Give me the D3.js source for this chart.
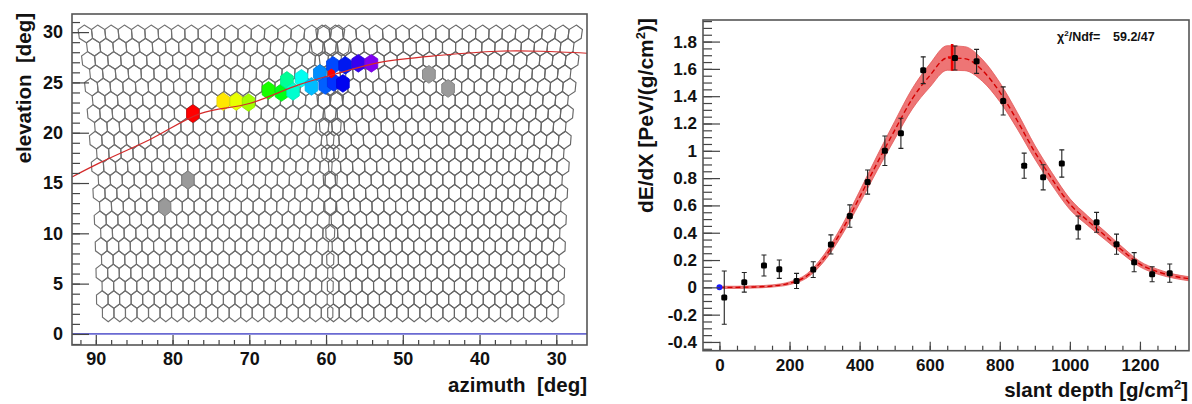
<!DOCTYPE html>
<html><head><meta charset="utf-8">
<script src="https://cdn.jsdelivr.net/npm/d3@7"></script>
<style>
body{margin:0;background:#fff}
svg{display:block}
text{font-family:"Liberation Sans",Arial,Helvetica,sans-serif;font-weight:bold;fill:#111}
</style>
</head><body>
<svg id="c" width="1192" height="404"></svg>
<script>
// ---------------- LEFT PANEL DATA ----------------
const azTicks = [90, 80, 70, 60, 50, 40, 30];
const elTicks = [0, 5, 10, 15, 20, 25, 30];
// camera layout (two fluorescence cameras, 20 cols x 22 rows, 1.5 deg pixels)
const camAxisAz = [74.5, 44.4];
const camStagger = [1, -1];
const camCols = 20, camRows = 22;
const rowEl0 = 2.1, rowStep = 1.32, pixSize = 1.5;
// shower-detector plane
const sdpAz = [93.1, 89.5, 83, 76.4, 70, 63.4, 58, 53, 45, 37.7, 32, 26];
const sdpEl = [15.6, 17.0, 19.3, 21.9, 22.9, 24.8, 26.0, 27.0, 27.7, 28.1, 28.1, 27.9];
// triggered pixels: azimuth, elevation, relative time (colour)
const trigAz = [77.35, 73.4, 71.7, 70.1, 67.5, 65.8, 65.1, 64.3, 63.2, 61.9, 60.8, 60.1, 59.1, 59.0, 57.5, 57.8, 55.8, 54.1];
const trigEl = [21.9, 23.1, 23.1, 23.0, 24.2, 24.0, 25.2, 24.1, 25.4, 24.6, 25.9, 24.7, 26.7, 25.0, 26.7, 24.9, 26.9, 26.9];
const trigT  = [0.0, 0.2, 0.24, 0.3, 0.42, 0.46, 0.57, 0.62, 0.65, 0.72, 0.76, 0.8, 0.82, 0.84, 0.86, 0.88, 0.93, 1.0];
// hit (gray) pixels
const grayAz = [81.0, 78.0, 46.6, 44.1];
const grayEl = [12.6, 15.3, 25.8, 24.4];
// highlighted point on the SDP
const markAz = [59.3], markEl = [25.9];

// ---------------- RIGHT PANEL DATA ----------------
const depthTicks = [0, 200, 400, 600, 800, 1000, 1200];
const dEdXTicks = [-0.4, -0.2, 0, 0.2, 0.4, 0.6, 0.8, 1, 1.2, 1.4, 1.6, 1.8];
const depth = [13.7, 70.8, 127, 170.7, 220, 267.6, 318, 372, 422.8, 472, 517.8, 581.5, 672, 733.8, 809.7, 869.6, 923.8, 977, 1023.7, 1076.2, 1133.2, 1183.5, 1234.8, 1285];
const dEdX  = [-0.075, 0.037, 0.16, 0.133, 0.047, 0.13, 0.314, 0.522, 0.771, 1.0, 1.128, 1.59, 1.68, 1.655, 1.365, 0.891, 0.806, 0.907, 0.438, 0.476, 0.316, 0.184, 0.096, 0.104];
const dEdXErr = [0.195, 0.072, 0.077, 0.067, 0.055, 0.058, 0.07, 0.082, 0.088, 0.108, 0.11, 0.098, 0.088, 0.088, 0.103, 0.092, 0.092, 0.1, 0.084, 0.073, 0.074, 0.07, 0.055, 0.067];
const fitX = [0, 50, 100, 150, 200, 250, 300, 350, 400, 450, 500, 550, 600, 650, 700, 750, 800, 850, 900, 950, 1000, 1050, 1100, 1150, 1200, 1250, 1300, 1340];
const fitY = [0, 0.0, 0.003, 0.01, 0.03, 0.085, 0.22, 0.42, 0.66, 0.91, 1.15, 1.38, 1.55, 1.68, 1.675, 1.59, 1.43, 1.22, 0.99, 0.79, 0.61, 0.49, 0.38, 0.27, 0.17, 0.115, 0.08, 0.063];
const fitErr = [0.008, 0.008, 0.008, 0.008, 0.01, 0.015, 0.025, 0.035, 0.045, 0.055, 0.065, 0.075, 0.085, 0.09, 0.088, 0.08, 0.07, 0.06, 0.05, 0.045, 0.04, 0.035, 0.03, 0.025, 0.02, 0.018, 0.015, 0.015];
const xmaxX = [664], xmaxY = [1.685], xmaxErrY = [0.098], xmaxErrX = [12];
const firstX = [0], firstY = [0];
const chiText = "59.2/47";

// =================================================
const svg = d3.select("#c");
const rad = Math.PI / 180;

// ---------- LEFT ----------
const xL = d3.scaleLinear().domain([93.1, 26.0]).range([72, 587]);
const yL = d3.scaleLinear().domain([-1.1, 31.8]).range([345, 14]);
const gL = svg.append("g");

const hexOff = [[0, 0.88], [0.75, 0.44], [0.75, -0.44], [0, -0.88], [-0.75, -0.44], [-0.75, 0.44]];
const line = d3.line();

// camera pixels
for (let k = 0; k < 2; k++) {
  const g = gL.append("g").attr("fill", "none").attr("stroke", k === 0 ? "#707070" : "#666")
    .attr("stroke-width", 1.15);
  for (let r = 0; r < camRows; r++) {
    const e = rowEl0 + r * rowStep;
    const shift = (r % 2 === 0 ? 1 : -1) * 0.25 * camStagger[k];
    for (let c = 0; c < camCols; c++) {
      const u = (c - 9.5 + shift) * pixSize;
      const pts = hexOff.map(([dx, dy]) => {
        const ev = e + dy;
        const av = camAxisAz[k] - (u + dx) / Math.cos(ev * rad);
        return [xL(av), yL(ev)];
      });
      g.append("path").attr("d", line(pts) + "Z");
    }
  }
}

function hexAt(az, el, s) {
  return line(hexOff.map(([dx, dy]) => [xL(az - dx * s / Math.cos((el + dy * s) * rad)), yL(el + dy * s)])) + "Z";
}
// gray pixels
gL.append("g").selectAll("path").data(d3.range(grayAz.length)).join("path")
  .attr("d", i => hexAt(grayAz[i], grayEl[i], 1))
  .attr("fill", "#9a9a9a").attr("stroke", "#888").attr("stroke-width", 1);
// triggered pixels
const colT = t => d3.hsl(t * 272, 1, t > 0.85 ? 0.47 : 0.5).toString();
gL.append("g").selectAll("path").data(d3.range(trigAz.length)).join("path")
  .attr("d", i => hexAt(trigAz[i], trigEl[i], 1))
  .attr("fill", i => colT(trigT[i])).attr("stroke", i => d3.color(colT(trigT[i])).darker(0.3)).attr("stroke-width", 0.8);
gL.append("g").selectAll("path").data(d3.range(markAz.length)).join("path")
  .attr("d", i => hexAt(markAz[i], markEl[i], 0.55)).attr("fill", "#ff0000").attr("stroke", "none");

// SDP line
gL.append("path")
  .attr("d", d3.line().curve(d3.curveCatmullRom)(sdpAz.map((a, i) => [xL(a), yL(sdpEl[i])])))
  .attr("fill", "none").attr("stroke", "#d42a2a").attr("stroke-width", 1.2);
// elevation zero line
gL.append("line").attr("x1", xL.range()[0]).attr("x2", xL.range()[1])
  .attr("y1", yL(0)).attr("y2", yL(0)).attr("stroke", "#6a6ad2").attr("stroke-width", 1.8);

function styleAxis(fs) {
  return g => {
    g.select(".domain").remove();
    g.selectAll(".tick line").attr("stroke", "#444").attr("stroke-width", 1.2);
    g.selectAll("text").attr("font-size", fs).attr("fill", "#111");
  };
}
// axes left
gL.append("g").attr("transform", `translate(0,${yL.range()[0]})`)
  .call(d3.axisBottom(xL).tickValues(d3.range(28, 94, 2)).tickSizeInner(-5).tickSizeOuter(0).tickFormat(""))
  .call(styleAxis(18));
gL.append("g").attr("transform", `translate(0,${yL.range()[0]})`)
  .call(d3.axisBottom(xL).tickValues(azTicks).tickSizeInner(-10).tickSizeOuter(0).tickPadding(7).tickFormat(d3.format("d")))
  .call(styleAxis(18));
gL.append("g").attr("transform", `translate(${xL.range()[0]},0)`)
  .call(d3.axisLeft(yL).tickValues(d3.range(-1, 32, 1)).tickSizeInner(-8).tickSizeOuter(0).tickFormat(""))
  .call(styleAxis(18));
gL.append("g").attr("transform", `translate(${xL.range()[0]},0)`)
  .call(d3.axisLeft(yL).tickValues(elTicks).tickSizeInner(-17).tickSizeOuter(0).tickPadding(9).tickFormat(d3.format("d")))
  .call(styleAxis(18));
gL.append("rect").attr("x", 72).attr("y", 14).attr("width", 515).attr("height", 331)
  .attr("fill", "none").attr("stroke", "#555").attr("stroke-width", 1.6);
gL.append("text").attr("x", 587).attr("y", 392).attr("text-anchor", "end").attr("font-size", 20.5)
  .attr("xml:space", "preserve").text("azimuth  [deg]");
gL.append("text").attr("transform", "translate(31,13) rotate(-90)").attr("text-anchor", "end").attr("font-size", 20.5)
  .attr("xml:space", "preserve").text("elevation  [deg]");

// ---------- RIGHT ----------
const xR = d3.scaleLinear().domain([-47, 1340]).range([703, 1189]);
const yR = d3.scaleLinear().domain([-0.464, 1.958]).range([350.7, 20]);
const gR = svg.append("g");
const defs = svg.append("defs");
defs.append("clipPath").attr("id", "clipR").append("rect").attr("x", 703).attr("y", 20).attr("width", 486).attr("height", 330.7);
const gRc = gR.append("g").attr("clip-path", "url(#clipR)");

// fit band
gRc.append("path")
  .attr("d", d3.area().curve(d3.curveMonotoneX)
    .x((d, i) => xR(fitX[i])).y0((d, i) => yR(fitY[i] - fitErr[i])).y1((d, i) => yR(fitY[i] + fitErr[i]))(fitX))
  .attr("fill", "#ee7575").attr("stroke", "#e25858").attr("stroke-width", 0.8);
gRc.append("path")
  .attr("d", d3.line().curve(d3.curveMonotoneX).x((d, i) => xR(fitX[i])).y((d, i) => yR(fitY[i]))(fitX))
  .attr("fill", "none").attr("stroke", "#d40000").attr("stroke-width", 1.4).attr("stroke-dasharray", "5,3");

// Xmax marker
gRc.append("g").selectAll("g").data(d3.range(xmaxX.length)).join("g").each(function (i) {
  const g = d3.select(this);
  g.append("line").attr("x1", xR(xmaxX[i])).attr("x2", xR(xmaxX[i]))
    .attr("y1", yR(xmaxY[i] - xmaxErrY[i])).attr("y2", yR(xmaxY[i] + xmaxErrY[i]))
    .attr("stroke", "#ee0000").attr("stroke-width", 2.6);
  g.append("line").attr("x1", xR(xmaxX[i] - xmaxErrX[i])).attr("x2", xR(xmaxX[i] + xmaxErrX[i]))
    .attr("y1", yR(xmaxY[i])).attr("y2", yR(xmaxY[i]))
    .attr("stroke", "#ee0000").attr("stroke-width", 2);
});

// error bars and points
const gp = gRc.append("g");
depth.forEach((x, i) => {
  const cx = xR(x), y1 = yR(dEdX[i] - dEdXErr[i]), y2 = yR(dEdX[i] + dEdXErr[i]);
  gp.append("line").attr("x1", cx).attr("x2", cx).attr("y1", y1).attr("y2", y2).attr("stroke", "#222").attr("stroke-width", 1.1);
  gp.append("line").attr("x1", cx - 2.5).attr("x2", cx + 2.5).attr("y1", y1).attr("y2", y1).attr("stroke", "#222").attr("stroke-width", 1.1);
  gp.append("line").attr("x1", cx - 2.5).attr("x2", cx + 2.5).attr("y1", y2).attr("y2", y2).attr("stroke", "#222").attr("stroke-width", 1.1);
});
gp.selectAll("rect").data(depth).join("rect")
  .attr("x", d => xR(d) - 3).attr("y", (d, i) => yR(dEdX[i]) - 3).attr("width", 6).attr("height", 6)
  .attr("rx", 1.5).attr("fill", "#000");
gp.selectAll("circle").data(firstX).join("circle")
  .attr("cx", d => xR(d)).attr("cy", (d, i) => yR(firstY[i])).attr("r", 3).attr("fill", "#1a1aff");

// axes right
gR.append("g").attr("transform", `translate(0,${yR.range()[0]})`)
  .call(d3.axisBottom(xR).tickValues(d3.range(0, 1340, 50)).tickSizeInner(-5).tickSizeOuter(0).tickFormat(""))
  .call(styleAxis(17));
gR.append("g").attr("transform", `translate(0,${yR.range()[0]})`)
  .call(d3.axisBottom(xR).tickValues(depthTicks).tickSizeInner(-9).tickSizeOuter(0).tickPadding(8).tickFormat(d3.format("d")))
  .call(styleAxis(17));
gR.append("g").attr("transform", `translate(${xR.range()[0]},0)`)
  .call(d3.axisLeft(yR).tickValues(d3.range(-0.45, 1.96, 0.05)).tickSizeInner(-9).tickSizeOuter(0).tickFormat(""))
  .call(styleAxis(17));
gR.append("g").attr("transform", `translate(${xR.range()[0]},0)`)
  .call(d3.axisLeft(yR).tickValues(dEdXTicks).tickSizeInner(-17).tickSizeOuter(0).tickPadding(6).tickFormat(d => String(+d.toFixed(1))))
  .call(styleAxis(17));
gR.append("rect").attr("x", 703).attr("y", 20).attr("width", 486).attr("height", 330.7)
  .attr("fill", "none").attr("stroke", "#555").attr("stroke-width", 1.6);

const tx = gR.append("text").attr("x", 1188).attr("y", 397).attr("text-anchor", "end").attr("font-size", 20.5);
tx.append("tspan").text("slant depth [g/cm");
tx.append("tspan").attr("font-size", 13).attr("dy", -8).text("2");
tx.append("tspan").attr("dy", 8).text("]");
const ty = gR.append("text").attr("transform", "translate(653,18) rotate(-90)").attr("text-anchor", "end").attr("font-size", 21);
ty.append("tspan").text("dE/dX [PeV/(g/cm");
ty.append("tspan").attr("font-size", 13).attr("dy", -8).text("2");
ty.append("tspan").attr("dy", 8).text(")]");

const tc = gR.append("text").attr("x", 1057).attr("y", 41).attr("font-size", 12.5);
tc.append("tspan").text("χ");
tc.append("tspan").attr("font-size", 8).attr("dy", -5).text("2");
tc.append("tspan").attr("dy", 5).text("/Ndf=");
gR.append("text").attr("x", 1113).attr("y", 41).attr("font-size", 12.5).text(chiText);
</script>
</body></html>
